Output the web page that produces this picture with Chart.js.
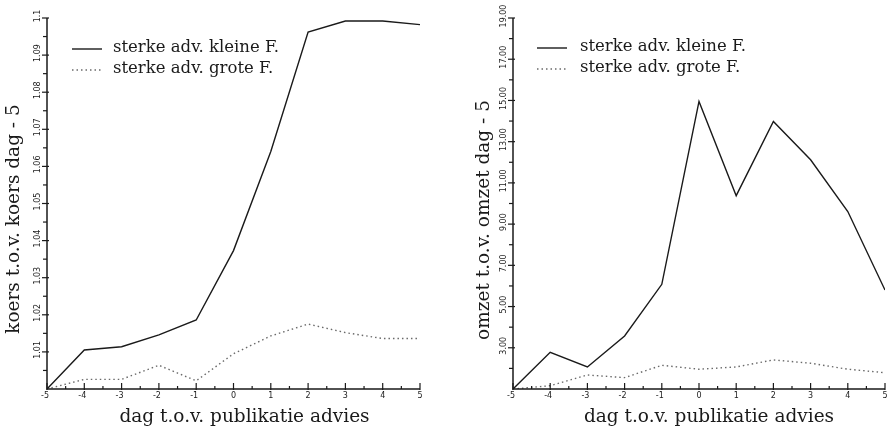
<!DOCTYPE html>
<html><head><meta charset="utf-8">
<script src="https://cdn.jsdelivr.net/npm/chart.js@4/dist/chart.umd.min.js"></script>
<style>
html,body{margin:0;padding:0;background:#fff;width:889px;height:431px;overflow:hidden}
#l{position:absolute;left:0;top:0}
#r{position:absolute;left:445px;top:0}
</style></head><body>
<canvas id="l" width="445" height="431"></canvas>
<canvas id="r" width="444" height="431"></canvas>
<script>
// ---- data ----
const days = [-5,-4,-3,-2,-1,0,1,2,3,4,5];
const koersKlein = [1.000,1.0105,1.0114,1.0146,1.0186,1.0373,1.0640,1.0962,1.0992,1.0992,1.0982];
const koersGroot = [1.000,1.0026,1.0026,1.0064,1.0022,1.0095,1.0143,1.0175,1.0152,1.0136,1.0136];
const omzetKlein = [1.00,2.78,2.07,3.57,6.08,14.95,10.38,13.98,12.12,9.61,5.80];
const omzetGroot = [1.00,1.16,1.68,1.55,2.15,1.96,2.07,2.41,2.25,1.96,1.79];
const xTickLabels = ['-5','-4','-3','-2','-1','0','1','2','3','4','5'];
const koersTickLabels = ['1.01','1.02','1.03','1.04','1.05','1.06','1.07','1.08','1.09','1.1'];
const omzetTickLabels = ['3.00','5.00','7.00','9.00','11.00','13.00','15.00','17.00','19.00'];
const seriesNames = ['sterke adv. kleine F.','sterke adv. grote F.'];
const xTitle = 'dag t.o.v. publikatie advies';
const koersTitle = 'koers t.o.v. koers dag - 5';
const omzetTitle = 'omzet t.o.v. omzet dag - 5';

const SERIF = '"DejaVu Serif", serif';
const INK = '#1a1a1a';
const DOT = '#6a6a6a';

function pts(ys){ return days.map((d,i)=>({x:d,y:ys[i]})); }

function decorations(o){
  return {
    id:'decor',
    afterDraw(chart){
      const ctx = chart.ctx, a = chart.chartArea, xs = chart.scales.x, ys = chart.scales.y;
      ctx.save();
      ctx.strokeStyle = INK; ctx.fillStyle = INK; ctx.lineWidth = 1.5; ctx.setLineDash([]);
      ctx.beginPath();
      ctx.moveTo(a.left, a.top); ctx.lineTo(a.left, a.bottom); ctx.lineTo(a.right, a.bottom);
      ctx.stroke();
      ctx.lineWidth = 1.2;
      const xv = xTickLabels.map(Number);
      xv.forEach((v,i)=>{
        const px = xs.getPixelForValue(v);
        ctx.beginPath(); ctx.moveTo(px, a.bottom+1); ctx.lineTo(px, a.bottom-6); ctx.stroke();
        if(i < xv.length-1){
          const mx = xs.getPixelForValue((v+xv[i+1])/2);
          ctx.beginPath(); ctx.moveTo(mx, a.bottom); ctx.lineTo(mx, a.bottom-3); ctx.stroke();
        }
      });
      ctx.font = '8px "DejaVu Sans", sans-serif';
      ctx.textAlign = 'center'; ctx.textBaseline = 'top';
      xTickLabels.forEach((t,i)=>{
        ctx.fillText(t, xs.getPixelForValue(xv[i]) - (xv[i]<0?2:0), a.bottom + 3);
      });
      const yv = o.yLabels.map(Number);
      const all = [o.yMin].concat(yv);
      all.forEach((v,i)=>{
        const py = ys.getPixelForValue(v);
        if(i>0){ ctx.beginPath(); ctx.moveTo(a.left-5, py); ctx.lineTo(a.left+2, py); ctx.stroke(); }
        if(i < all.length-1){
          const my = ys.getPixelForValue((v+all[i+1])/2);
          ctx.beginPath(); ctx.moveTo(a.left-4, my); ctx.lineTo(a.left, my); ctx.stroke();
        }
      });
      ctx.font = '8px "DejaVu Sans", sans-serif';
      ctx.textAlign = 'center'; ctx.textBaseline = 'middle';
      o.yLabels.forEach((t,i)=>{
        const py = ys.getPixelForValue(yv[i]);
        ctx.save(); ctx.translate(a.left-9, py-2); ctx.rotate(-Math.PI/2);
        ctx.fillText(t, 0, 0); ctx.restore();
      });
      ctx.font = o.titleFont;
      ctx.textAlign = 'center'; ctx.textBaseline = 'middle';
      ctx.fillText(xTitle, (a.left+a.right)/2 + o.xTitleDx, a.bottom + 28);
      ctx.save(); ctx.translate(o.yTitleX, o.yTitleY); ctx.rotate(-Math.PI/2);
      ctx.fillText(o.yTitle, 0, 0); ctx.restore();
      ctx.font = o.legendFont; ctx.textAlign = 'left'; ctx.textBaseline = 'middle';
      chart.data.datasets.forEach((ds,i)=>{
        const ly = o.legY + i*o.legGap;
        ctx.strokeStyle = ds.borderColor; ctx.lineWidth = ds.borderWidth;
        ctx.setLineDash(ds.borderDash || []);
        ctx.beginPath(); ctx.moveTo(o.legX, ly+1); ctx.lineTo(o.legX+30, ly+1); ctx.stroke();
        ctx.setLineDash([]);
        ctx.fillStyle = INK;
        ctx.fillText(ds.label, o.legX+o.legTx, ly);
      });
      ctx.restore();
    }
  };
}

function makeChart(id, s1, s2, o){
  return new Chart(document.getElementById(id), {
    type:'line',
    data:{ datasets:[
      {label:seriesNames[0], data:pts(s1), borderColor:INK, borderWidth:1.4, pointRadius:0, tension:0, fill:false},
      {label:seriesNames[1], data:pts(s2), borderColor:DOT, borderWidth:1.4, borderDash:[1.5,3], pointRadius:0, tension:0, fill:false}
    ]},
    options:{
      responsive:false, animation:false, devicePixelRatio:1,
      layout:{ padding:{ top:18, right:o.padRight, left:0, bottom:0 } },
      plugins:{ legend:{display:false}, tooltip:{enabled:false} },
      scales:{
        x:{ type:'linear', min:-5, max:5, grid:{display:false}, border:{display:false},
            ticks:{display:false}, afterFit(s){ s.height = 431-389; } },
        y:{ type:'linear', min:o.yMin, max:o.yMax, grid:{display:false}, border:{display:false},
            ticks:{display:false}, afterFit(s){ s.width = o.leftW; } }
      }
    },
    plugins:[decorations(o)]
  });
}

makeChart('l', koersKlein, koersGroot, {
  yMin:1.00, yMax:1.10, yLabels:koersTickLabels, padRight:25, leftW:47,
  titleFont:'18.5px '+SERIF, legendFont:'16.5px '+SERIF, xTitleDx:11,
  yTitle:koersTitle, yTitleX:14, yTitleY:219,
  legX:72, legY:48, legGap:21, legTx:41
});
makeChart('r', omzetKlein, omzetGroot, {
  yMin:1, yMax:19, yLabels:omzetTickLabels, padRight:4, leftW:68,
  titleFont:'18.5px '+SERIF, legendFont:'16.5px '+SERIF, xTitleDx:10,
  yTitle:omzetTitle, yTitleX:39, yTitleY:220,
  legX:92, legY:47, legGap:21, legTx:43
});
</script>
</body></html>
